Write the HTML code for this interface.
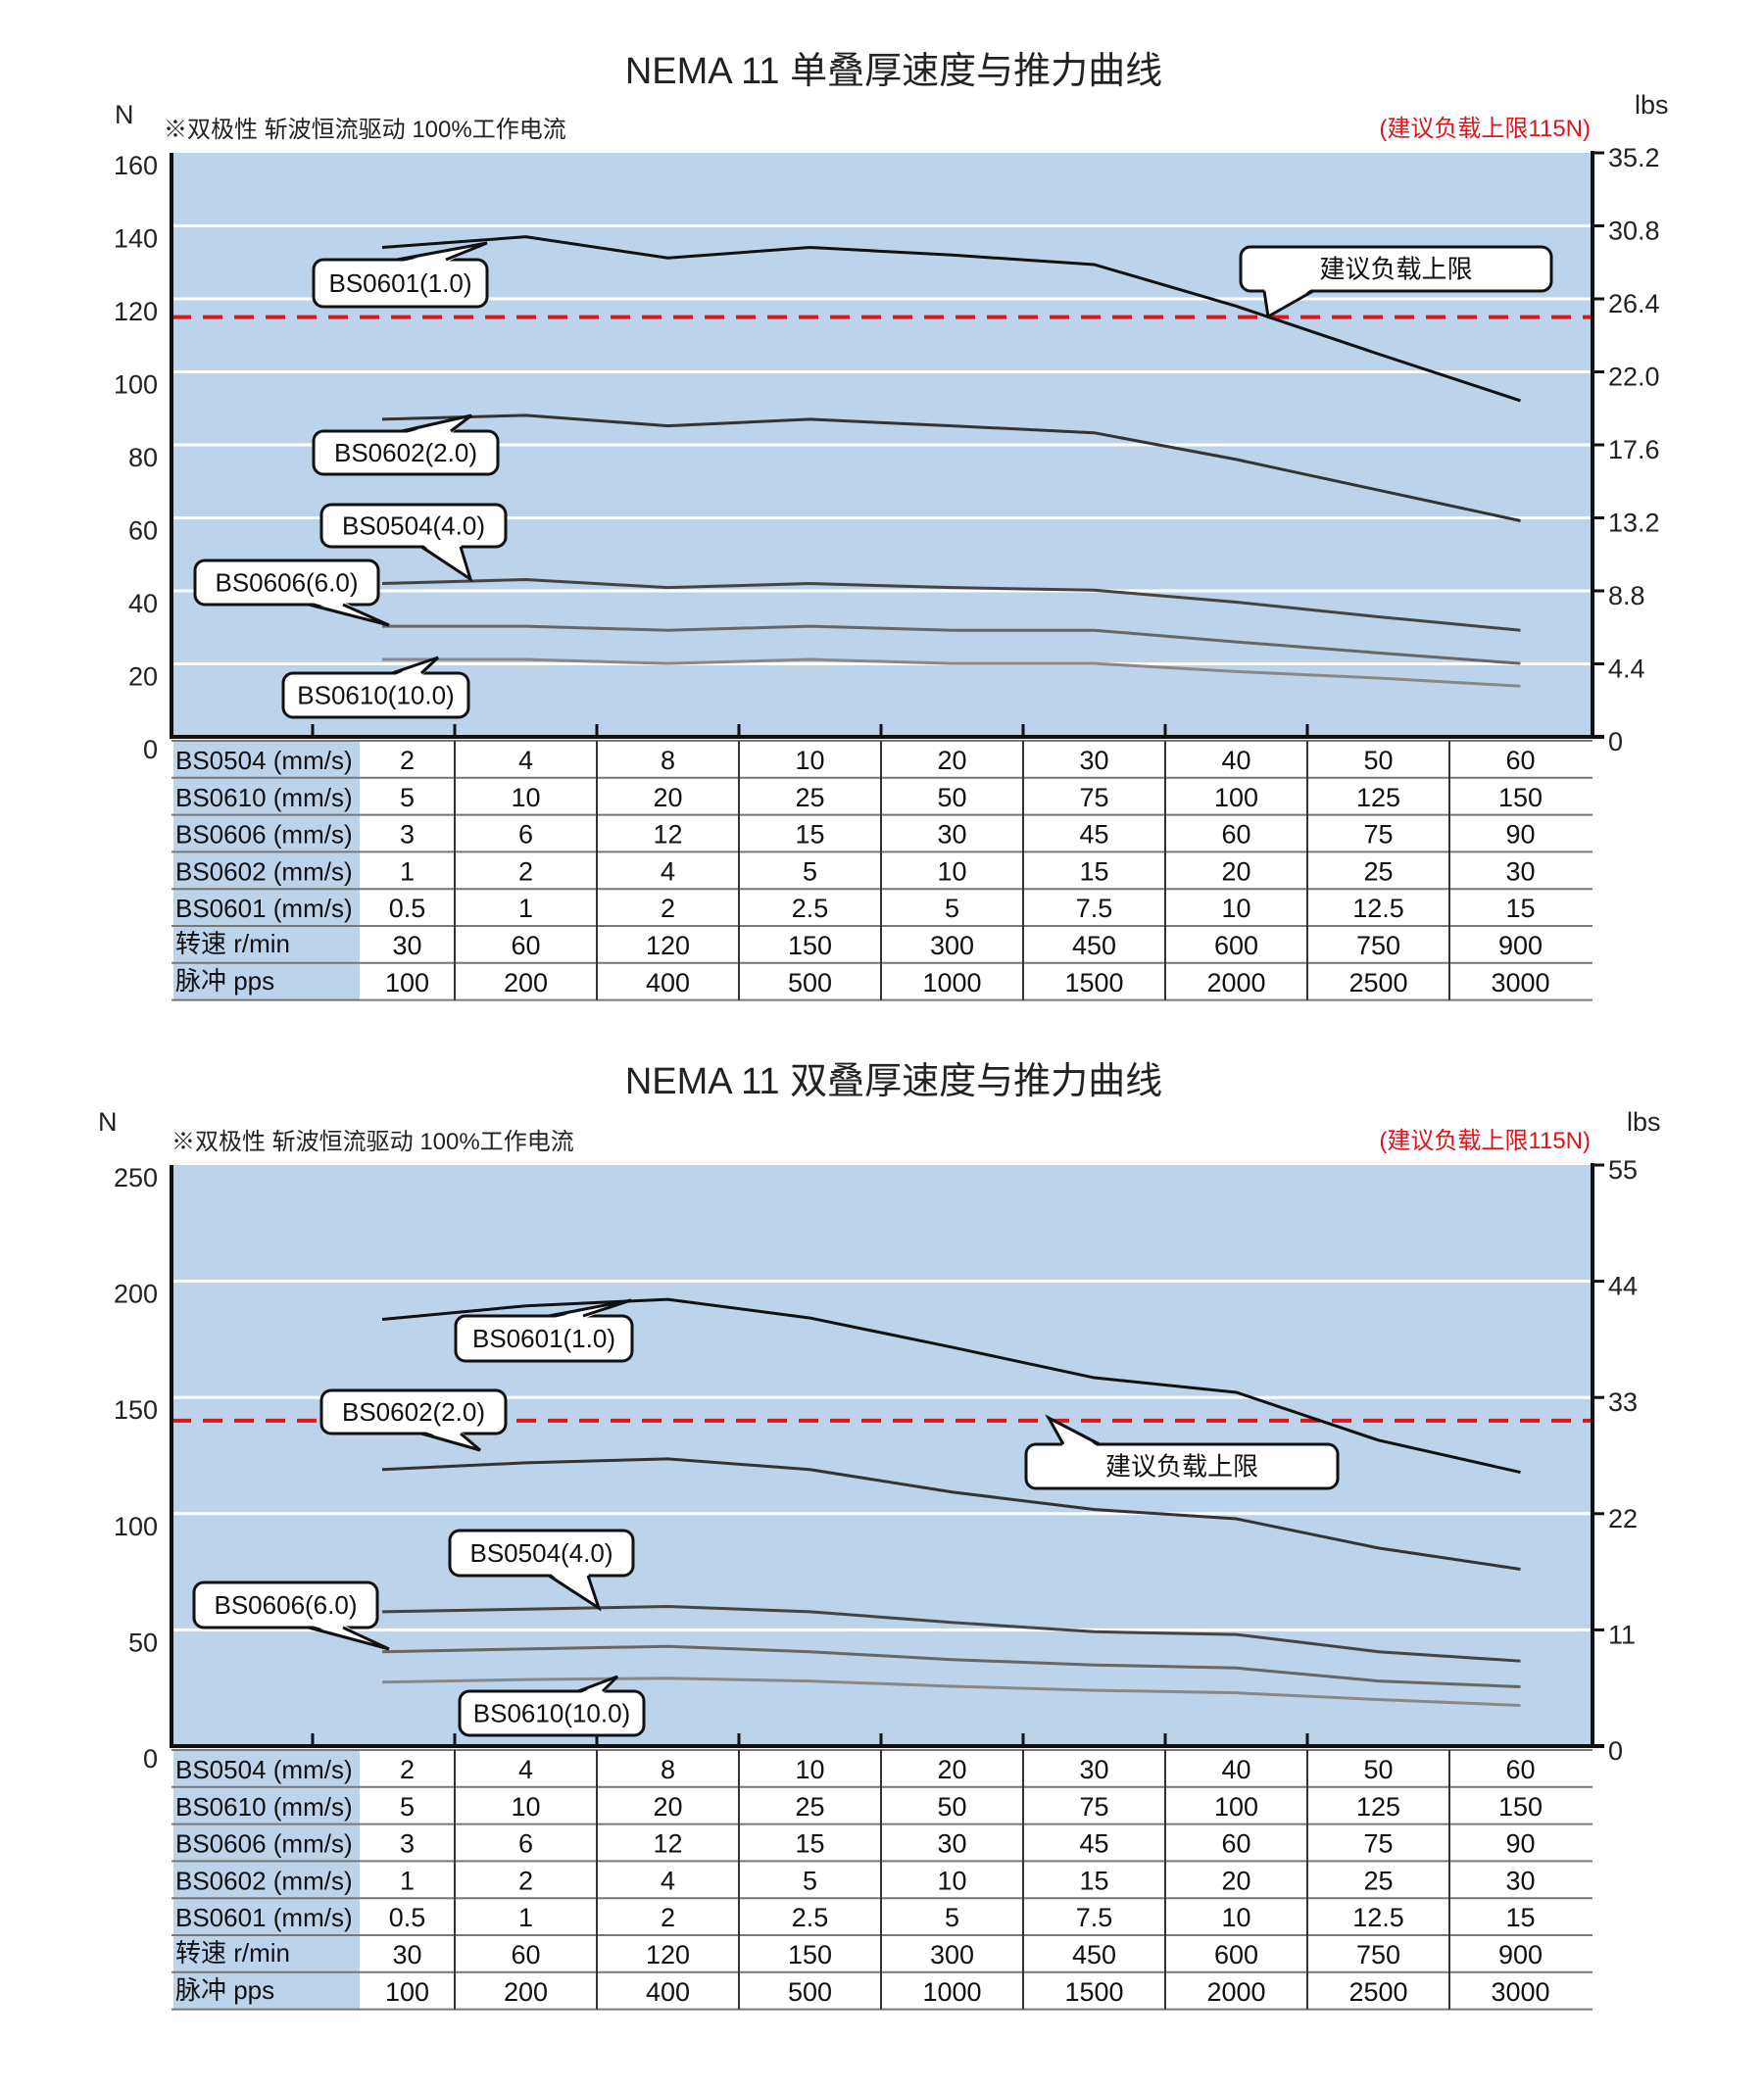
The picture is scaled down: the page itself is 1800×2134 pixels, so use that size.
<!DOCTYPE html>
<html><head><meta charset="utf-8">
<style>
html,body{margin:0;padding:0;background:#fff;}
body{width:1800px;height:2129px;overflow:hidden;font-family:"Liberation Sans","Noto Sans CJK SC",sans-serif;}
svg text{font-family:"Liberation Sans","Noto Sans CJK SC",sans-serif;}
</style></head>
<body>
<svg id="root" width="1800" height="2129" viewBox="0 0 1800 2129" xmlns="http://www.w3.org/2000/svg"></svg>
<script>
// ---- shared data ----
const tableLabels = ["BS0504 (mm/s)","BS0610 (mm/s)","BS0606 (mm/s)","BS0602 (mm/s)","BS0601 (mm/s)","转速 r/min","脉冲 pps"];
const rowBS0504 = ["2","4","8","10","20","30","40","50","60"];
const rowBS0610 = ["5","10","20","25","50","75","100","125","150"];
const rowBS0606 = ["3","6","12","15","30","45","60","75","90"];
const rowBS0602 = ["1","2","4","5","10","15","20","25","30"];
const rowBS0601 = ["0.5","1","2","2.5","5","7.5","10","12.5","15"];
const rowRpm = ["30","60","120","150","300","450","600","750","900"];
const rowPps = ["100","200","400","500","1000","1500","2000","2500","3000"];
const seriesNames = ["BS0601","BS0602","BS0504","BS0606","BS0610"];

// ---- chart 1 (single stack) ----
const c1LeftTicks = [0,20,40,60,80,100,120,140,160];
const c1RightTicks = ["0","4.4","8.8","13.2","17.6","22.0","26.4","30.8","35.2"];
const c1Limit = 115;
const c1BS0601 = [134.1,137,131.2,134.1,132,129.4,118,104.9,92.1];
const c1BS0602 = [87,88.1,85.2,87,85.2,83.3,76,67.6,59.2];
const c1BS0504 = [42,43.1,40.9,42,40.9,40.2,36.9,32.9,29.2];
const c1BS0606 = [30.3,30.3,29.2,30.3,29.2,29.2,26,23,20.1];
const c1BS0610 = [21.2,21.2,20.1,21.2,20.1,20.1,17.9,16.1,13.9];

// ---- chart 2 (double stack) ----
const c2LeftTicks = [0,50,100,150,200,250];
const c2RightTicks = ["0","11","22","33","44","55"];
const c2Limit = 140;
const c2BS0601 = [183.6,189.4,192.2,184.2,171.6,158.5,152.2,131.6,117.8];
const c2BS0602 = [119,121.9,123.6,119,109.3,101.8,97.8,85.2,76.1];
const c2BS0504 = [57.8,58.9,60.1,57.8,53.2,49.2,48,40.6,36.6];
const c2BS0606 = [40.6,41.8,42.9,40.6,37.2,34.9,33.6,28,25.5];
const c2BS0610 = [27.5,28.6,29.2,28,25.7,24,22.9,20,17.5];

const NS="http://www.w3.org/2000/svg";
const root=document.getElementById('root');
function mk(tag,attrs,parent,text){
  const e=document.createElementNS(NS,tag);
  for(const k in attrs)e.setAttribute(k,attrs[k]);
  if(text!==undefined)e.textContent=text;
  (parent||root).appendChild(e);return e;
}
const L=175,R=1625,LABW=367;
function colCenter(i){return i===0?415.5:536.5+145*(i-1);}
function curveX(i){return i===0?390:colCenter(i);}
const lineColors=["#111","#333","#444","#666","#888"];

function drawChart(g,cfg){
  const top=cfg.top,zero=cfg.zero,max=cfg.max;
  const y=v=>zero-(v/max)*(zero-top);
  // title etc.
  const t=mk('text',{x:912,y:cfg.titleY,'font-size':38,'text-anchor':'middle',fill:'#222'},g,cfg.title);
  
  const n=mk('text',{x:cfg.nX,y:cfg.nY,'font-size':27,fill:'#222'},g,'N');
  
  const s=mk('text',{x:cfg.subX,y:cfg.subY,'font-size':24,fill:'#222'},g,'※双极性 斩波恒流驱动 100%工作电流');
  
  const rn=mk('text',{x:1623,y:cfg.subY-1,'font-size':24,'text-anchor':'end',fill:'#e0151b'},g,'(建议负载上限115N)');
  
  const lb=mk('text',{x:cfg.lbsX,y:cfg.lbsY,'font-size':27,fill:'#222'},g,'lbs');
  
  // plot bg
  const bg=mk('rect',{x:L,y:top,width:R-L,height:zero-top,fill:'#bcd3ec'},g);
  
  // grid + ticks
  cfg.leftTicks.forEach((v,i)=>{
    const yy=y(v);
    if(v>0 && v<max){const gl=mk('line',{x1:L,x2:R,y1:yy,y2:yy,stroke:'#fff','stroke-width':3},g);
      }
    const tl=mk('text',{x:161,y:yy+22,'font-size':27,'text-anchor':'end',fill:'#222'},g,String(v));
    
    const tk=mk('line',{x1:R,x2:R+12,y1:yy,y2:yy,stroke:'#111','stroke-width':3},g);
    
    const rl=mk('text',{x:1641,y:yy+14,'font-size':27,fill:'#222'},g,cfg.rightTicks[i]);
    
  });
  // limit line
  const ly=y(cfg.limit);
  const lim=mk('line',{x1:L,x2:R,y1:ly,y2:ly,stroke:'#e0151b','stroke-width':4,'stroke-dasharray':'20 12'},g);
  
  // series
  cfg.series.forEach((arr,si)=>{
    const pts=arr.map((v,i)=>curveX(i)+','+y(v)).join(' ');
    const pl=mk('polyline',{points:pts,fill:'none',stroke:lineColors[si],'stroke-width':si===0?3:3},g);
    
  });
  // axes
  const ax=mk('line',{x1:L,x2:L,y1:top,y2:zero+2,stroke:'#111','stroke-width':4},g);
  
  const ar=mk('line',{x1:R,x2:R,y1:top-2,y2:zero+2,stroke:'#111','stroke-width':4},g);
  
  const axb=mk('line',{x1:L,x2:R+12,y1:zero,y2:zero,stroke:'#111','stroke-width':4},g);
  
  for(let k=0;k<8;k++){
    const xx=319+145*k;
    const xt=mk('line',{x1:xx,x2:xx,y1:zero,y2:zero-13,stroke:'#111','stroke-width':3},g);
    
  }
  // table
  const tt=zero+4,rh=37.8;
  const rows=[rowBS0504,rowBS0610,rowBS0606,rowBS0602,rowBS0601,rowRpm,rowPps];
  const lbg=mk('rect',{x:L+2,y:tt,width:LABW-L-2,height:rh*7,fill:'#bcd3ec'},g);
  
  for(let r=0;r<=7;r++){
    const yy=tt+r*rh;
    const hl=mk('line',{x1:L,x2:R,y1:yy,y2:yy,stroke:'#777','stroke-width':2},g);
    
  }
  [464,609,754,899,1044,1189,1334,1479].forEach(xx=>{
    const vl=mk('line',{x1:xx,x2:xx,y1:tt,y2:tt+rh*7,stroke:'#333','stroke-width':2},g);
    
  });
  rows.forEach((row,r)=>{
    const cy=tt+r*rh+29;
    const lt=mk('text',{x:179,y:cy-(r>=5?2:0),'font-size':26,fill:'#111'},g,tableLabels[r]);
    
    row.forEach((v,i)=>{
      const ct=mk('text',{x:colCenter(i),y:cy,'font-size':27,'text-anchor':'middle',fill:'#111'},g,v);
      
    });
  });
  // callouts
  cfg.callouts.forEach(c=>{
    const cg=mk('g',{},g);
    
    mk('rect',{x:c.x,y:c.y,width:c.w,height:c.h,rx:10,fill:'#fff',stroke:'#111','stroke-width':3},cg);
    const by=c.down?c.y+c.h:c.y;
    mk('polygon',{points:`${c.b1},${by+(c.down?-3:3)} ${c.tx},${c.ty} ${c.b2},${by+(c.down?-3:3)}`,fill:'#fff'},cg);
    mk('polyline',{points:`${c.b1},${by} ${c.tx},${c.ty} ${c.b2},${by}`,fill:'none',stroke:'#111','stroke-width':3},cg);
    mk('text',{x:c.x+c.w/2,y:c.y+c.h/2+9,'font-size':26,'text-anchor':'middle',fill:'#111'},cg,c.text);
  });
}

const g1=mk('g',{});


drawChart(g1,{top:156,zero:752,max:160,title:'NEMA 11 单叠厚速度与推力曲线',titleY:85,nX:117,nY:126,subX:167,subY:140,lbsX:1668,lbsY:116,
  leftTicks:c1LeftTicks,rightTicks:c1RightTicks,limit:c1Limit,
  series:[c1BS0601,c1BS0602,c1BS0504,c1BS0606,c1BS0610],
  callouts:[
    {id:'bs0601',x:320,y:265,w:177,h:48,down:false,b1:405,b2:455,tx:497,ty:248,text:'BS0601(1.0)'},
    {id:'bs0602',x:320,y:440,w:188,h:44,down:false,b1:410,b2:460,tx:481,ty:424,text:'BS0602(2.0)'},
    {id:'bs0504',x:328,y:515,w:188,h:43,down:true,b1:430,b2:470,tx:480,ty:591,text:'BS0504(4.0)'},
    {id:'bs0606',x:199,y:572,w:187,h:45,down:true,b1:315,b2:350,tx:397,ty:638,text:'BS0606(6.0)'},
    {id:'bs0610',x:289,y:687,w:189,h:45,down:false,b1:400,b2:430,tx:447,ty:671,text:'BS0610(10.0)'},
    {id:'load-limit',x:1266,y:252,w:317,h:45,down:true,b1:1290,b2:1340,tx:1294,ty:323,text:'建议负载上限'}
  ]});

const g2=mk('g',{});


drawChart(g2,{top:1189,zero:1782,max:250,title:'NEMA 11 双叠厚速度与推力曲线',titleY:1116,nX:100,nY:1154,subX:175,subY:1173,lbsX:1660,lbsY:1154,
  leftTicks:c2LeftTicks,rightTicks:c2RightTicks,limit:c2Limit,
  series:[c2BS0601,c2BS0602,c2BS0504,c2BS0606,c2BS0610],
  callouts:[
    {id:'bs0601',x:465,y:1343,w:180,h:46,down:false,b1:560,b2:595,tx:644,ty:1327,text:'BS0601(1.0)'},
    {id:'bs0602',x:328,y:1419,w:188,h:44,down:true,b1:430,b2:470,tx:490,ty:1480,text:'BS0602(2.0)'},
    {id:'bs0504',x:459,y:1562,w:187,h:46,down:true,b1:560,b2:600,tx:611,ty:1641,text:'BS0504(4.0)'},
    {id:'bs0606',x:198,y:1615,w:187,h:46,down:true,b1:315,b2:350,tx:397,ty:1683,text:'BS0606(6.0)'},
    {id:'bs0610',x:469,y:1726,w:188,h:45,down:false,b1:590,b2:615,tx:630,ty:1711,text:'BS0610(10.0)'},
    {id:'load-limit',x:1047,y:1474,w:318,h:45,down:false,b1:1085,b2:1122,tx:1070,ty:1447,text:'建议负载上限'}
  ]});
</script>
</body></html>
